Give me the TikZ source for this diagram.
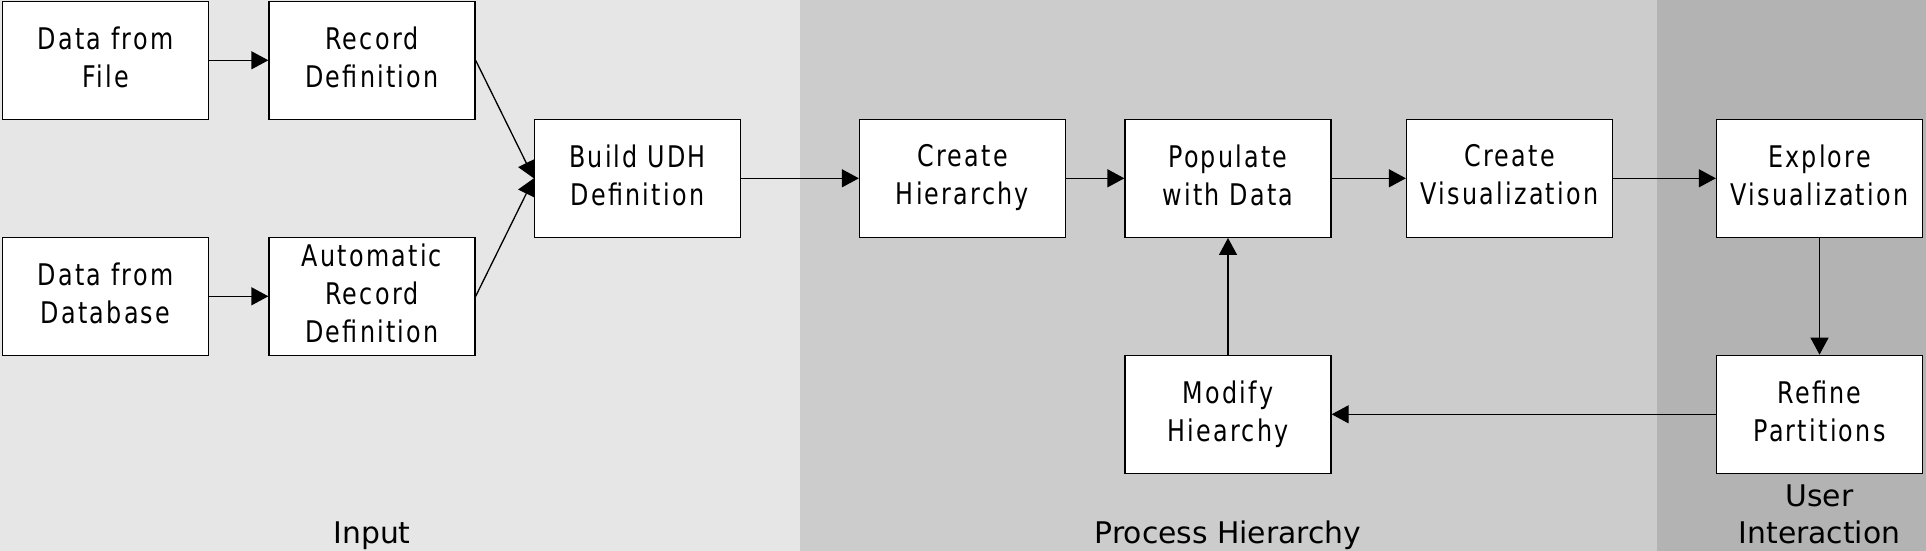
\documentclass[tikz,border=0pt]{standalone}
\usepackage{fontspec}
\setmainfont{DejaVu Sans}[FakeStretch=0.8,LetterSpace=7.5]
\newfontfamily\labelfont{DejaVu Sans}
\usetikzlibrary{arrows.meta}
\definecolor{bandA}{HTML}{E6E6E6}
\definecolor{bandB}{HTML}{CCCCCC}
\definecolor{bandC}{HTML}{B3B3B3}
\tikzset{
  stepbox/.style={draw=black, line width=0.65pt, fill=white, rectangle,
    minimum width=103pt, minimum height=59pt, inner sep=0pt, align=center,
    font=\fontsize{14.9}{19}\selectfont,
    execute at end node={\rule[-3.6pt]{0pt}{3.6pt}}},
  flow/.style={draw=black, line width=0.65pt, -{Triangle[length=8.5pt,width=9pt]}},
  bandlabel/.style={font=\labelfont\fontsize{14.9}{18.5}\selectfont, inner sep=0pt, align=center}
}
\begin{document}
\begin{tikzpicture}[x=0.5pt,y=-0.5pt]
\useasboundingbox (0,0) rectangle (1926,551);
\fill[bandA] (0,0) rectangle (800,551);
\fill[bandB] (800,0) rectangle (1657,551);
\fill[bandC] (1657,0) rectangle (1926,551);

\node[stepbox] (file) at (105.5,60.3) {Data from\\File};
\node[stepbox] (rec) at (372,60.3) {Record\\Definition};
\node[stepbox] (db) at (105.5,296.3) {Data from\\Database};
\node[stepbox] (auto) at (372,296.3) {Automatic\\Record\\Definition};
\node[stepbox] (build) at (637.5,178.3) {Build UDH\\Definition};
\node[stepbox] (ch) at (962.5,178.3) {Create\\Hierarchy};
\node[stepbox] (pop) at (1228,178.3) {Populate\\with Data};
\node[stepbox] (cv) at (1509.5,178.3) {Create\\Visualization};
\node[stepbox] (ev) at (1819.5,178.3) {Explore\\Visualization};
\node[stepbox] (mod) at (1228,414.3) {Modify\\Hiearchy};
\node[stepbox] (ref) at (1819.5,414.3) {Refine\\Partitions};

\node[bandlabel, anchor=base] (lin) at (372,543) {Input};
\node[bandlabel, anchor=base] (lproc) at (1228,543) {Process Hierarchy};
\node[bandlabel, anchor=base] (luser) at (1819.5,543) {User\\Interaction};

\draw[flow] (file) -- (rec);
\draw[flow] (db) -- (auto);
\draw[flow] (rec.east) -- (build.west);
\draw[flow] (auto.east) -- (build.west);
\draw[flow] (build) -- (ch);
\draw[flow] (ch) -- (pop);
\draw[flow] (pop) -- (cv);
\draw[flow] (cv) -- (ev);
\draw[flow] (ev) -- (ref);
\draw[flow] (ref) -- (mod);
\draw[flow] (mod) -- (pop);
\end{tikzpicture}
\end{document}
